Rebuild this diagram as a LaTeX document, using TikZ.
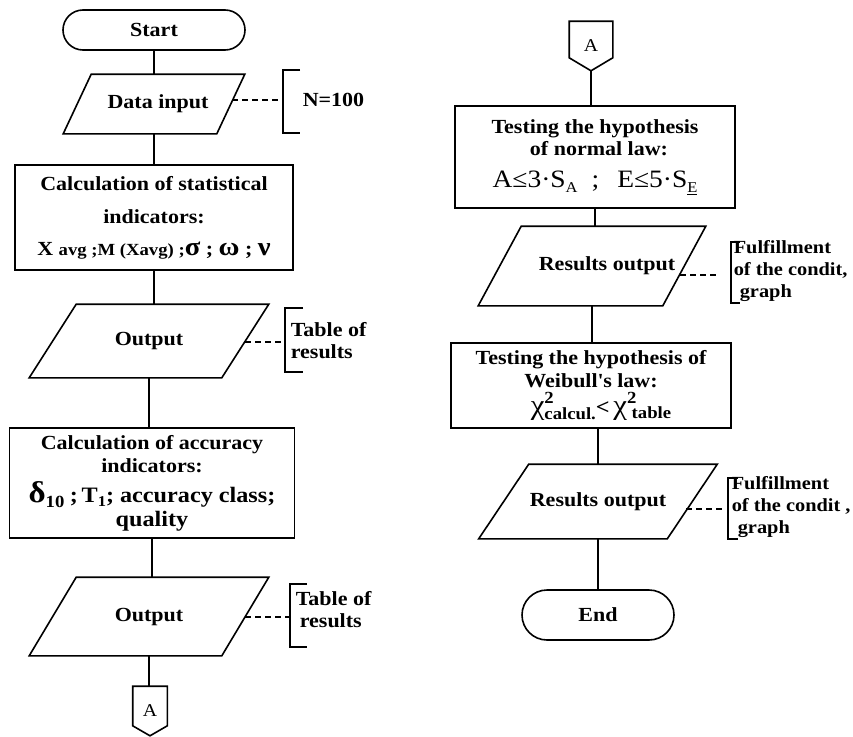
\documentclass[tikz,border=0pt]{standalone}
\usepackage{fontspec}
\setmainfont{Liberation Serif}[FakeStretch=1.1]
\usetikzlibrary{calc}
\newcommand\setfs[1]{\fontsize{#1}{#1}\selectfont}
\newcommand\gk[1]{{\setfs{26}#1}}
\newcommand\drawpara[2]{\draw[link] ([xshift=#2]#1.north west) -- (#1.north east) -- ([xshift=-#2]#1.south east) -- (#1.south west) -- cycle;}
\newcommand\drawoffp[2]{\draw[link] (#1.north west) -- (#1.north east) -- ([yshift=#2]#1.south east) -- (#1.south) -- ([yshift=#2]#1.south west) -- cycle;}
\begin{document}
\begin{tikzpicture}[x=1pt,y=-1pt,
  every node/.style={font=\fontsize{20}{22}\selectfont\bfseries, inner sep=0pt, line width=1.6pt},
  link/.style={line width=1.6pt},
  proc/.style={draw, rectangle, align=center},
  term/.style={draw, rectangle, rounded corners=#1},
  io/.style={rectangle, align=center},
  offp/.style={rectangle, font=\setfs{18}\mdseries},
  dashlink/.style={line width=1.3pt, dash pattern=on 6pt off 4pt},
  brk/.style={line width=1.5pt},
  note/.style={anchor=west, align=left, font=\fontsize{20}{22}\selectfont\bfseries},
  rnote/.style={anchor=west, align=left, font=\fontsize{18.5}{22}\selectfont\bfseries}
]
\useasboundingbox[fill=white] (0,0) rectangle (853,736);

% ---------- left column ----------
\node[term=20pt, minimum width=182pt, minimum height=40pt] (start) at (154,30) {Start};
\node[io, minimum width=180pt, minimum height=58pt] (data) at (154,104) {\hspace*{8pt}Data input};
\drawpara{data}{28pt}
\node[proc, minimum width=278pt, minimum height=105pt] (stat) at (154,217.5)
  {Calculation of statistical\\[11pt]indicators:\\[10pt]X {\setfs{17}avg ;M (Xavg) ;}\gk{σ} ;\ \gk{ω} ;\ \gk{ν}};
\node[io, minimum width=238pt, minimum height=72pt] (out1) at (149,341) {Output};
\drawpara{out1}{47pt}
\node[proc, minimum width=285pt, minimum height=110pt] (acc) at (152,483)
  {Calculation of accuracy\\[1pt]indicators:\\[8pt]{\setfs{30}δ}\raisebox{-5pt}{\setfs{17}10} {\setfs{22};\,T}\raisebox{-4pt}{\setfs{15}1}{\setfs{22}; accuracy class;}\\[2pt]{\setfs{22}quality}};
\node[io, minimum width=238pt, minimum height=77pt] (out2) at (149,616.5) {Output};
\drawpara{out2}{47pt}
\node[offp, minimum width=33pt, minimum height=48pt] (conA) at (150,711) {A};
\drawoffp{conA}{10pt}

\draw[link] (start.south) -- (start.south |- data.north);
\draw[link] (data.south) -- (data.south |- stat.north);
\draw[link] (stat.south) -- (stat.south |- out1.north);
\draw[link] (out1.south) -- (out1.south |- acc.north);
\draw[link] (acc.south) -- (acc.south |- out2.north);
\draw[link] (out2.south) -- (out2.south |- conA.north);

% annotations left
\coordinate (d1a) at (232,100); \coordinate (d1b) at (283,100);
\draw[dashlink] (d1a) -- (d1b);
\draw[brk] (300,70) -- (283,70) -- (283,133) -- (300,133);
\node[note] (n1) at (302,100) {N=100};

\coordinate (d2a) at (245,342); \coordinate (d2b) at (285,342);
\draw[dashlink] (d2a) -- (d2b);
\draw[brk] (303,308) -- (285,308) -- (285,372) -- (303,372);
\node[note] (n2) at (290,341) {Table of\\results};

\coordinate (d3a) at (245,617); \coordinate (d3b) at (290,617);
\draw[dashlink] (d3a) -- (d3b);
\draw[brk] (307,584) -- (290,584) -- (290,647) -- (307,647);
\node[note] (n3) at (295,610) {Table of\\\hspace*{4pt}results};

% ---------- right column ----------
\node[offp, minimum width=42pt, minimum height=48pt] (conB) at (591,46) {A};
\drawoffp{conB}{13pt}
\node[proc, minimum width=280pt, minimum height=102pt] (test1) at (595,157)
  {Testing the hypothesis\\[0pt]\hspace*{8pt}of normal law:\\[10pt]{\mdseries\setfs{25}A≤3·S\raisebox{-5pt}{\setfs{15}A}\hspace{14pt};\hspace{18pt}E≤5·S\raisebox{-5pt}{\setfs{15}\underline{E}}}};
\node[io, minimum width=226pt, minimum height=78pt] (res1) at (592,266) {\hspace*{30pt}Results output};
\drawpara{res1}{43pt}
\node[proc, minimum width=280pt, minimum height=85pt] (test2) at (591,385.5)
  {Testing the hypothesis of\\[1pt]Weibull\textquotesingle s law:\\[3pt]{\mdseries\setfs{28}\hspace*{20pt}χ}\rlap{\raisebox{11pt}{\setfs{17}2}}\raisebox{-5pt}{\setfs{17}calcul.}{\setfs{22}<\,}{\mdseries\setfs{28}χ}\rlap{\raisebox{11pt}{\setfs{17}2}}\raisebox{-4pt}{\setfs{17}\ table}};
\node[io, minimum width=237pt, minimum height=73pt] (res2) at (598,501.5) {Results output};
\drawpara{res2}{50pt}
\node[term=25pt, minimum width=152pt, minimum height=50pt] (end) at (598,615) {End};

\draw[link] (conB.south) -- (conB.south |- test1.north);
\draw[link] (test1.south) -- (test1.south |- res1.north);
\draw[link] (res1.south) -- (res1.south |- test2.north);
\draw[link] (test2.south -| res2.north) -- (res2.north);
\draw[link] (res2.south) -- (res2.south |- end.north);

% annotations right
\coordinate (d4a) at (680,275); \coordinate (d4b) at (716,275);
\draw[dashlink] (d4a) -- (d4b);
\draw[brk] (740,242) -- (731,242) -- (731,303) -- (740,303);
\node[rnote] (n4) at (733,271) {Fulfillment\\of the condit,\\\hspace*{6pt}graph};

\coordinate (d5a) at (686,509); \coordinate (d5b) at (725,509);
\draw[dashlink] (d5a) -- (d5b);
\draw[brk] (738,478) -- (728,478) -- (728,539) -- (738,539);
\node[rnote] (n5) at (731,507) {Fulfillment\\of the condit ,\\\hspace*{6pt}graph};
\end{tikzpicture}
\end{document}
